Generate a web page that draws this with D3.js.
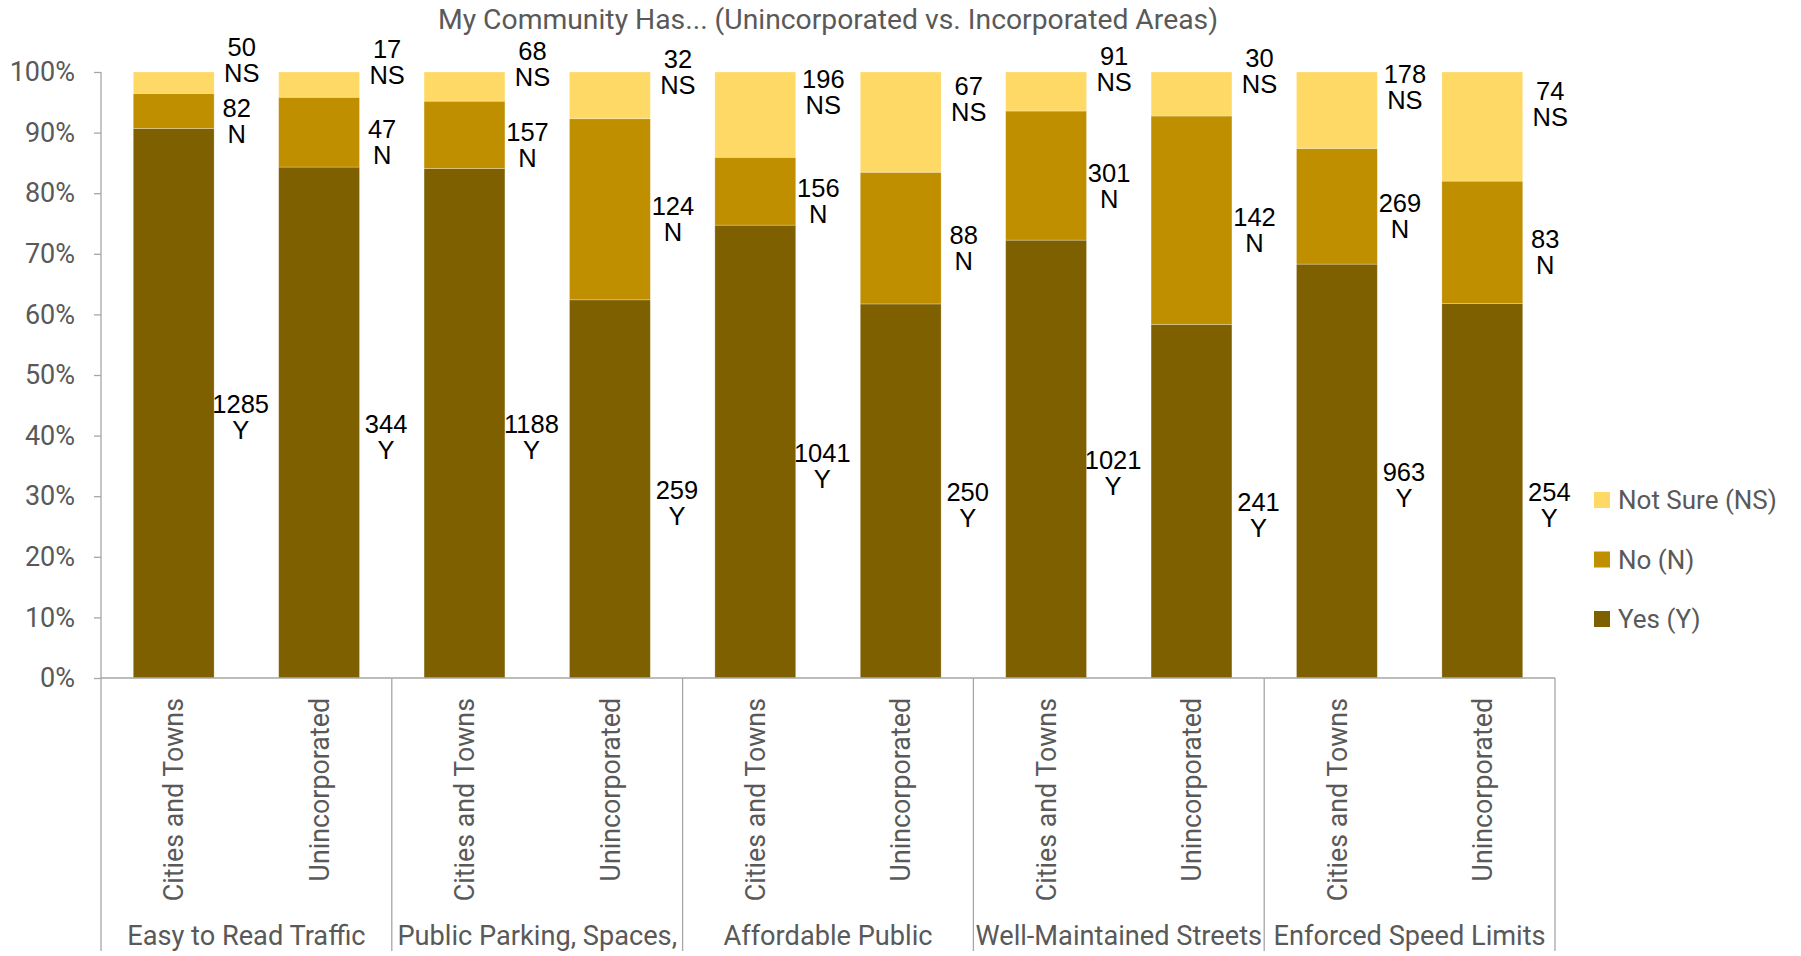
<!DOCTYPE html>
<html>
<head>
<meta charset="utf-8">
<script src="https://cdn.jsdelivr.net/npm/d3@7"></script>
<style>
  html, body { margin: 0; padding: 0; background: #fff; }
  svg { display: block; }
  .gray { font-family: Roboto, "Open Sans", sans-serif; fill: #595959; }
  .lbl { font-family: "Liberation Sans", Arial, sans-serif; fill: #000; }
</style>
</head>
<body>
<svg id="chart" width="1801" height="956"></svg>
<script>
// ---- data ----
const title = "My Community Has... (Unincorporated vs. Incorporated Areas)";
const groups = ["Easy to Read Traffic", "Public Parking, Spaces,", "Affordable Public", "Well-Maintained Streets", "Enforced Speed Limits"];
const areas = ["Cities and Towns", "Unincorporated"];
const yesCounts = [1285, 344, 1188, 259, 1041, 250, 1021, 241, 963, 254];
const noCounts = [82, 47, 157, 124, 156, 88, 301, 142, 269, 83];
const notSureCounts = [50, 17, 68, 32, 196, 67, 91, 30, 178, 74];
const seriesKeys = ["Y", "N", "NS"];
const seriesNames = ["Yes (Y)", "No (N)", "Not Sure (NS)"];
const yTickValues = [0, 0.1, 0.2, 0.3, 0.4, 0.5, 0.6, 0.7, 0.8, 0.9, 1.0];

// ---- styles ----
const colors = { Y: "#7F6000", N: "#BF8F00", NS: "#FFD966" };
const labelDy = { Y: 14, N: 10, NS: -23 };   // vertical nudge of data labels
const labelDx = { Y: 67, N: 63, NS: 68 };    // horizontal offset from bar centre
const axisColor = "#a6a6a6";

const rows = yesCounts.map((v, i) => ({
  id: i,
  group: groups[Math.floor(i / 2)],
  area: areas[i % 2],
  Y: v, N: noCounts[i], NS: notSureCounts[i]
}));

const svg = d3.select("#chart");
const pLeft = 101, pRight = 1555, pTop = 72, pBottom = 678, axisBottom = 951;

const x = d3.scaleBand().domain(rows.map(d => d.id)).range([pLeft, pRight])
  .paddingInner(0.444).paddingOuter(0.222);
const y = d3.scaleLinear().domain([0, 1]).range([pBottom, pTop]);

const stack = d3.stack().keys(seriesKeys).offset(d3.stackOffsetExpand);
const stacked = stack(rows);

// bars
const layers = svg.append("g").selectAll("g").data(stacked).join("g")
  .attr("fill", s => colors[s.key]);
layers.selectAll("rect").data(s => s.map(p => ({ p, key: s.key }))).join("rect")
  .attr("x", d => x(d.p.data.id))
  .attr("width", x.bandwidth())
  .attr("y", d => y(d.p[1]))
  .attr("height", d => y(d.p[0]) - y(d.p[1]))
  .attr("stroke", "rgba(255,255,255,0.35)")
  .attr("stroke-width", 0.75);

// y axis
const yAxis = d3.axisLeft(y).tickValues(yTickValues).tickFormat(d3.format(".0%"))
  .tickSize(7).tickSizeOuter(0).tickPadding(19);
const yg = svg.append("g").attr("transform", `translate(${pLeft},0)`).call(yAxis);
yg.select(".domain").remove();
yg.selectAll(".tick line").attr("stroke", axisColor).attr("stroke-width", 1.3);
yg.selectAll(".tick text").attr("class", "gray").attr("font-size", 27)
  .style("font-family", "Roboto, sans-serif").style("fill", "#595959");

// axis lines
svg.append("line").attr("x1", pLeft).attr("x2", pLeft).attr("y1", pTop).attr("y2", axisBottom)
  .attr("stroke", axisColor).attr("stroke-width", 1.3);
svg.append("line").attr("x1", pLeft).attr("x2", pRight).attr("y1", pBottom).attr("y2", pBottom)
  .attr("stroke", axisColor).attr("stroke-width", 1.3);

// group separators
const half = (x.step() - x.bandwidth()) / 2;
const bounds = groups.map((g, gi) => x(gi * 2) - half);
bounds.push(x(rows.length - 1) + x.bandwidth() + half);
svg.append("g").selectAll("line").data(bounds.slice(1)).join("line")
  .attr("x1", d => d).attr("x2", d => d).attr("y1", pBottom).attr("y2", axisBottom)
  .attr("stroke", axisColor).attr("stroke-width", 1.3);

// rotated sub-category labels
svg.append("g").selectAll("text").data(rows).join("text")
  .attr("class", "gray").attr("font-size", 26.8)
  .attr("text-anchor", "end").attr("dy", "0.36em")
  .attr("transform", d => `translate(${x(d.id) + x.bandwidth() / 2},698) rotate(-90)`)
  .text(d => d.area);

// group labels
svg.append("g").selectAll("text").data(groups).join("text")
  .attr("class", "gray").attr("font-size", 27.2)
  .attr("text-anchor", "middle")
  .attr("x", (d, i) => (bounds[i] + bounds[i + 1]) / 2)
  .attr("y", 945)
  .text(d => d);

// data labels
const labelData = [];
stacked.forEach(s => s.forEach(p => {
  labelData.push({
    key: s.key,
    value: p.data[s.key],
    cx: x(p.data.id) + x.bandwidth() / 2 + labelDx[s.key],
    cy: y((p[0] + p[1]) / 2) + labelDy[s.key]
  });
}));
const lg = svg.append("g").selectAll("text").data(labelData).join("text")
  .attr("class", "lbl").attr("font-size", 25.5).attr("text-anchor", "middle")
  .attr("x", d => d.cx).attr("y", d => d.cy - 4);
lg.append("tspan").attr("x", d => d.cx).text(d => d.value);
lg.append("tspan").attr("x", d => d.cx).attr("dy", 26).text(d => d.key);

// legend
const legendOrder = [2, 1, 0];
const leg = svg.append("g").selectAll("g").data(legendOrder).join("g")
  .attr("transform", (d, i) => `translate(1594,${500 + i * 59.5})`);
leg.append("rect").attr("x", 0).attr("y", -8).attr("width", 16).attr("height", 16)
  .attr("fill", d => colors[seriesKeys[d]]);
leg.append("text").attr("class", "gray").attr("font-size", 26)
  .attr("x", 24).attr("dy", "0.36em").text(d => seriesNames[d]);

// title
svg.append("text").attr("class", "gray").attr("font-size", 28.3)
  .attr("text-anchor", "middle").attr("x", (pLeft + pRight) / 2).attr("y", 29)
  .text(title);
</script>
</body>
</html>
